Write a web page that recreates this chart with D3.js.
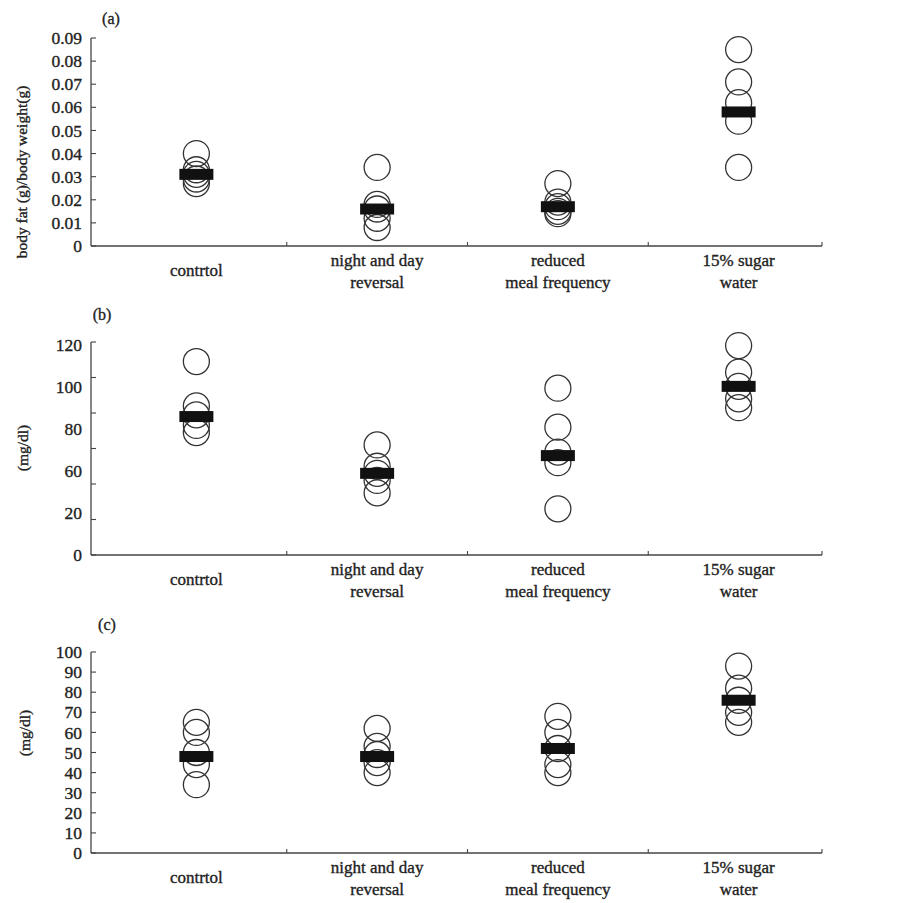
<!DOCTYPE html>
<html>
<head>
<meta charset="utf-8">
<script src="https://cdn.jsdelivr.net/npm/d3@7"></script>
<style>
  body { margin: 0; background: #fff; }
  svg text { font-family: "Liberation Serif", "Times New Roman", serif; fill: #222; stroke: #222; stroke-width: 0.35px; }
</style>
</head>
<body>
<div id="chart"></div>
<script>
// 組別
const categories = [
  ['contrtol'],
  ['night and day', 'reversal'],
  ['reduced', 'meal frequency'],
  ['15% sugar', 'water']
];

// (a) body fat / body weight
const bodyFatValues = [
  [0.040, 0.033, 0.031, 0.029, 0.027],
  [0.034, 0.018, 0.016, 0.012, 0.008],
  [0.027, 0.019, 0.017, 0.015, 0.014],
  [0.085, 0.071, 0.062, 0.054, 0.034]
];
const bodyFatMeans = [0.031, 0.016, 0.017, 0.058];
const bodyFatTicks = [0, 0.01, 0.02, 0.03, 0.04, 0.05, 0.06, 0.07, 0.08, 0.09];
const bodyFatTickLabels = ['0', '0.01', '0.02', '0.03', '0.04', '0.05', '0.06', '0.07', '0.08', '0.09'];

// (b) mg/dl
const panelBValues = [
  [109, 84, 79, 73, 69],
  [62, 50, 46, 42, 35],
  [94, 72, 58, 52, 26],
  [118, 103, 95, 88, 83]
];
const panelBMeans = [78, 46, 56, 95];
const panelBTicks = [0, 20, 40, 60, 80, 100, 120];
// 原圖刻度文字少了 40，且平均分佈
const panelBTickLabels = ['120', '100', '80', '60', '20', '0'];

// (c) mg/dl
const panelCValues = [
  [65, 60, 50, 44, 34],
  [62, 53, 49, 45, 40],
  [68, 60, 52, 44, 40],
  [93, 82, 76, 70, 65]
];
const panelCMeans = [48, 48, 52, 76];
const panelCTicks = [0, 10, 20, 30, 40, 50, 60, 70, 80, 90, 100];
const panelCTickLabels = ['0', '10', '20', '30', '40', '50', '60', '70', '80', '90', '100'];

const W = 912, H = 903;
const axisX = 91, axisEnd = 822;

const svg = d3.select('#chart').append('svg')
  .attr('width', W).attr('height', H)
  .attr('viewBox', `0 0 ${W} ${H}`);

const xScale = d3.scaleBand()
  .domain(categories.map((d, i) => i))
  .range([106, 829])
  .padding(0);

function drawPanel(opt) {
  const g = svg.append('g');
  const yScale = d3.scaleLinear().domain(opt.domain).range([opt.bottom, opt.top]);

  // y 軸線
  g.append('line')
    .attr('x1', axisX).attr('x2', axisX)
    .attr('y1', yScale(opt.domain[0])).attr('y2', yScale(opt.domain[1]))
    .attr('stroke', '#444').attr('stroke-width', 1.3);

  // y 刻度（向內）
  g.selectAll('.ytick')
    .data(opt.ticks)
    .enter().append('line')
    .attr('x1', axisX).attr('x2', axisX + 5)
    .attr('y1', d => yScale(d)).attr('y2', d => yScale(d))
    .attr('stroke', '#444').attr('stroke-width', 1.1);

  // y 刻度文字
  const labelScale = opt.labelScale || (i => yScale(opt.ticks[i]));
  g.selectAll('.ylabel')
    .data(opt.tickLabels)
    .enter().append('text')
    .attr('x', axisX - 9)
    .attr('y', (d, i) => labelScale(i))
    .attr('dy', '0.35em')
    .attr('text-anchor', 'end')
    .style('font-size', '17.5px')
    .text(d => d);

  // x 軸線
  g.append('line')
    .attr('x1', axisX).attr('x2', axisEnd)
    .attr('y1', opt.bottom).attr('y2', opt.bottom)
    .attr('stroke', '#444').attr('stroke-width', 1.3);

  // x 分隔刻度
  const bounds = categories.slice(1).map((d, i) => xScale(i + 1)).concat([axisEnd]);
  g.selectAll('.xtick')
    .data(bounds)
    .enter().append('line')
    .attr('x1', d => d).attr('x2', d => d)
    .attr('y1', opt.bottom).attr('y2', opt.bottom - 4)
    .attr('stroke', '#444').attr('stroke-width', 1.1);

  // 組別文字
  categories.forEach((lines, i) => {
    const cx = xScale(i) + xScale.bandwidth() / 2;
    const t = g.append('text')
      .attr('text-anchor', 'middle')
      .style('font-size', '17px');
    const y0 = lines.length === 1 ? opt.bottom + 30 : opt.bottom + 20;
    lines.forEach((ln, j) => {
      t.append('tspan').attr('x', cx).attr('y', y0 + j * 22).text(ln);
    });
  });

  // 個別資料點
  opt.values.forEach((vals, i) => {
    const cx = xScale(i) + xScale.bandwidth() / 2;
    g.selectAll(null)
      .data(vals)
      .enter().append('circle')
      .attr('cx', cx)
      .attr('cy', d => yScale(d))
      .attr('r', 13)
      .attr('fill', 'none')
      .attr('stroke', '#333')
      .attr('stroke-width', 1.3);
  });

  // 平均值橫條
  g.selectAll('.mean')
    .data(opt.means)
    .enter().append('rect')
    .attr('x', (d, i) => xScale(i) + xScale.bandwidth() / 2 - 17)
    .attr('y', d => yScale(d) - 5.5)
    .attr('width', 34)
    .attr('height', 11)
    .attr('fill', '#111');

  // 面板標記
  g.append('text')
    .attr('x', opt.tagX).attr('y', opt.tagY)
    .attr('text-anchor', 'middle')
    .style('font-size', '16px')
    .text(opt.tag);

  // y 軸標題
  g.append('text')
    .attr('transform', `translate(${opt.titleX}, ${opt.titleY}) rotate(-90)`)
    .attr('text-anchor', 'middle')
    .attr('dy', '0.35em')
    .style('font-size', '15.5px')
    .text(opt.title);
}

drawPanel({
  tag: '(a)', tagX: 111, tagY: 24,
  title: 'body fat (g)/body weight(g)', titleX: 22, titleY: 172,
  domain: [0, 0.09], top: 38, bottom: 246,
  ticks: bodyFatTicks, tickLabels: bodyFatTickLabels,
  values: bodyFatValues, means: bodyFatMeans
});

const bLabelScale = d3.scalePoint()
  .domain(panelBTickLabels.map((d, i) => i))
  .range([345, 555]);

drawPanel({
  tag: '(b)', tagX: 102, tagY: 320,
  title: '(mg/dl)', titleX: 23, titleY: 448,
  domain: [0, 120], top: 342, bottom: 555,
  ticks: panelBTicks, tickLabels: panelBTickLabels,
  labelScale: bLabelScale,
  values: panelBValues, means: panelBMeans
});

drawPanel({
  tag: '(c)', tagX: 107, tagY: 630,
  title: '(mg/dl)', titleX: 25, titleY: 733,
  domain: [0, 100], top: 652, bottom: 853,
  ticks: panelCTicks, tickLabels: panelCTickLabels,
  values: panelCValues, means: panelCMeans
});
</script>
</body>
</html>
